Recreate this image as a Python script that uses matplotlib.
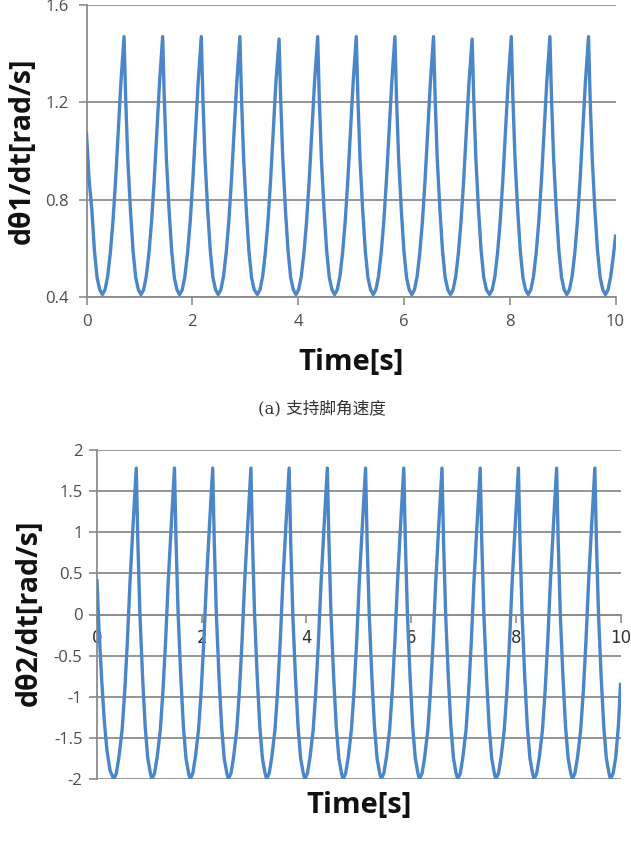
import matplotlib
matplotlib.use("Agg")
import matplotlib.pyplot as plt

# ---------------- data ----------------
# (a) support-leg angular velocity dθ1/dt [rad/s]
t1 = [0.00, 0.05, 0.10, 0.15, 0.20, 0.25,
      0.30, 0.35, 0.40, 0.45, 0.50, 0.55, 0.60, 0.65, 0.71, 0.74, 0.78, 0.83, 0.88, 0.93, 0.98,
      1.03, 1.08, 1.13, 1.18, 1.23, 1.28, 1.33, 1.38, 1.44, 1.47, 1.51, 1.56, 1.61, 1.66, 1.71,
      1.76, 1.81, 1.86, 1.91, 1.96, 2.01, 2.06, 2.11, 2.17, 2.20, 2.24, 2.29, 2.34, 2.39, 2.44,
      2.49, 2.54, 2.59, 2.64, 2.69, 2.74, 2.79, 2.84, 2.90, 2.93, 2.97, 3.02, 3.07, 3.12, 3.17,
      3.23, 3.28, 3.33, 3.38, 3.43, 3.48, 3.53, 3.58, 3.64, 3.67, 3.71, 3.76, 3.81, 3.86, 3.91,
      3.96, 4.01, 4.06, 4.11, 4.16, 4.21, 4.26, 4.31, 4.37, 4.40, 4.44, 4.49, 4.54, 4.59, 4.64,
      4.69, 4.74, 4.79, 4.84, 4.89, 4.94, 4.99, 5.04, 5.10, 5.13, 5.17, 5.22, 5.27, 5.32, 5.37,
      5.42, 5.47, 5.52, 5.57, 5.62, 5.67, 5.72, 5.77, 5.83, 5.86, 5.90, 5.95, 6.00, 6.05, 6.10,
      6.15, 6.20, 6.25, 6.30, 6.35, 6.40, 6.45, 6.50, 6.56, 6.59, 6.63, 6.68, 6.73, 6.78, 6.83,
      6.88, 6.93, 6.98, 7.03, 7.08, 7.13, 7.18, 7.23, 7.29, 7.32, 7.36, 7.41, 7.46, 7.51, 7.56,
      7.62, 7.67, 7.72, 7.77, 7.82, 7.87, 7.92, 7.97, 8.03, 8.06, 8.10, 8.15, 8.20, 8.25, 8.30,
      8.35, 8.40, 8.45, 8.50, 8.55, 8.60, 8.65, 8.70, 8.76, 8.79, 8.83, 8.88, 8.93, 8.98, 9.03,
      9.08, 9.13, 9.18, 9.23, 9.28, 9.33, 9.38, 9.43, 9.49, 9.52, 9.56, 9.61, 9.66, 9.71, 9.76,
      9.81, 9.86, 9.91, 9.96, 10.00]
w1 = [1.07, 0.88, 0.76, 0.59, 0.48, 0.43,
      0.41, 0.43, 0.485, 0.58, 0.71, 0.88, 1.08, 1.28, 1.47, 1.22, 0.97, 0.76, 0.59, 0.48, 0.43,
      0.41, 0.43, 0.485, 0.58, 0.71, 0.88, 1.08, 1.28, 1.47, 1.22, 0.97, 0.76, 0.59, 0.48, 0.43,
      0.41, 0.43, 0.485, 0.58, 0.71, 0.88, 1.08, 1.28, 1.47, 1.22, 0.97, 0.76, 0.59, 0.48, 0.43,
      0.41, 0.43, 0.485, 0.58, 0.71, 0.88, 1.08, 1.28, 1.47, 1.22, 0.97, 0.76, 0.59, 0.48, 0.43,
      0.41, 0.43, 0.485, 0.58, 0.71, 0.88, 1.08, 1.28, 1.46, 1.22, 0.97, 0.76, 0.59, 0.48, 0.43,
      0.41, 0.43, 0.485, 0.58, 0.71, 0.88, 1.08, 1.28, 1.47, 1.22, 0.97, 0.76, 0.59, 0.48, 0.43,
      0.41, 0.43, 0.485, 0.58, 0.71, 0.88, 1.08, 1.28, 1.47, 1.22, 0.97, 0.76, 0.59, 0.48, 0.43,
      0.41, 0.43, 0.485, 0.58, 0.71, 0.88, 1.08, 1.28, 1.47, 1.22, 0.97, 0.76, 0.59, 0.48, 0.43,
      0.41, 0.43, 0.485, 0.58, 0.71, 0.88, 1.08, 1.28, 1.47, 1.22, 0.97, 0.76, 0.59, 0.48, 0.43,
      0.41, 0.43, 0.485, 0.58, 0.71, 0.88, 1.08, 1.28, 1.46, 1.22, 0.97, 0.76, 0.59, 0.48, 0.43,
      0.41, 0.43, 0.485, 0.58, 0.71, 0.88, 1.08, 1.28, 1.47, 1.22, 0.97, 0.76, 0.59, 0.48, 0.43,
      0.41, 0.43, 0.485, 0.58, 0.71, 0.88, 1.08, 1.28, 1.47, 1.22, 0.97, 0.76, 0.59, 0.48, 0.43,
      0.41, 0.43, 0.485, 0.58, 0.71, 0.88, 1.08, 1.28, 1.47, 1.22, 0.97, 0.76, 0.59, 0.48, 0.43,
      0.41, 0.43, 0.485, 0.57, 0.65]

# (b) swing-leg angular velocity dθ2/dt [rad/s]
t2 = [0.00, 0.04, 0.09, 0.14, 0.19, 0.25,
      0.32, 0.37, 0.42, 0.48, 0.53, 0.58, 0.63, 0.69, 0.75, 0.78, 0.82, 0.87, 0.92, 0.97, 1.02,
      1.05, 1.10, 1.15, 1.21, 1.26, 1.31, 1.36, 1.42, 1.48, 1.51, 1.55, 1.60, 1.65, 1.70, 1.75,
      1.78, 1.83, 1.88, 1.94, 1.99, 2.04, 2.09, 2.15, 2.21, 2.24, 2.28, 2.33, 2.38, 2.43, 2.48,
      2.51, 2.56, 2.61, 2.67, 2.72, 2.77, 2.82, 2.88, 2.94, 2.97, 3.01, 3.06, 3.11, 3.16, 3.21,
      3.24, 3.29, 3.34, 3.40, 3.45, 3.50, 3.55, 3.61, 3.67, 3.70, 3.74, 3.79, 3.84, 3.89, 3.94,
      3.97, 4.02, 4.07, 4.13, 4.18, 4.23, 4.28, 4.34, 4.40, 4.43, 4.47, 4.52, 4.57, 4.62, 4.67,
      4.70, 4.75, 4.80, 4.86, 4.91, 4.96, 5.01, 5.07, 5.13, 5.16, 5.20, 5.25, 5.30, 5.35, 5.40,
      5.43, 5.48, 5.53, 5.59, 5.64, 5.69, 5.74, 5.80, 5.86, 5.89, 5.93, 5.98, 6.03, 6.08, 6.13,
      6.16, 6.21, 6.26, 6.32, 6.37, 6.42, 6.47, 6.53, 6.59, 6.62, 6.66, 6.71, 6.76, 6.81, 6.86,
      6.89, 6.94, 6.99, 7.05, 7.10, 7.15, 7.20, 7.26, 7.32, 7.35, 7.39, 7.44, 7.49, 7.54, 7.59,
      7.62, 7.67, 7.72, 7.78, 7.83, 7.88, 7.93, 7.99, 8.05, 8.08, 8.12, 8.17, 8.22, 8.27, 8.32,
      8.35, 8.40, 8.45, 8.51, 8.56, 8.61, 8.66, 8.72, 8.78, 8.81, 8.85, 8.90, 8.95, 9.00, 9.05,
      9.08, 9.13, 9.18, 9.24, 9.29, 9.34, 9.39, 9.45, 9.51, 9.54, 9.58, 9.63, 9.68, 9.73, 9.78,
      9.81, 9.86, 9.91, 9.96, 10.00]
w2 = [0.41, -0.20, -0.80, -1.30, -1.65, -1.90,
      -2.00, -1.93, -1.73, -1.40, -0.93, -0.33, 0.39, 1.10, 1.78, 0.89, 0.00, -0.75, -1.36, -1.75, -1.93,
      -2.00, -1.93, -1.73, -1.40, -0.93, -0.33, 0.39, 1.10, 1.78, 0.89, 0.00, -0.75, -1.36, -1.75, -1.93,
      -2.00, -1.93, -1.73, -1.40, -0.93, -0.33, 0.39, 1.10, 1.78, 0.89, 0.00, -0.75, -1.36, -1.75, -1.93,
      -2.00, -1.93, -1.73, -1.40, -0.93, -0.33, 0.39, 1.10, 1.78, 0.89, 0.00, -0.75, -1.36, -1.75, -1.93,
      -2.00, -1.93, -1.73, -1.40, -0.93, -0.33, 0.39, 1.10, 1.78, 0.89, 0.00, -0.75, -1.36, -1.75, -1.93,
      -2.00, -1.93, -1.73, -1.40, -0.93, -0.33, 0.39, 1.10, 1.78, 0.89, 0.00, -0.75, -1.36, -1.75, -1.93,
      -2.00, -1.93, -1.73, -1.40, -0.93, -0.33, 0.39, 1.10, 1.78, 0.89, 0.00, -0.75, -1.36, -1.75, -1.93,
      -2.00, -1.93, -1.73, -1.40, -0.93, -0.33, 0.39, 1.10, 1.78, 0.89, 0.00, -0.75, -1.36, -1.75, -1.93,
      -2.00, -1.93, -1.73, -1.40, -0.93, -0.33, 0.39, 1.10, 1.78, 0.89, 0.00, -0.75, -1.36, -1.75, -1.93,
      -2.00, -1.93, -1.73, -1.40, -0.93, -0.33, 0.39, 1.10, 1.78, 0.89, 0.00, -0.75, -1.36, -1.75, -1.93,
      -2.00, -1.93, -1.73, -1.40, -0.93, -0.33, 0.39, 1.10, 1.78, 0.89, 0.00, -0.75, -1.36, -1.75, -1.93,
      -2.00, -1.93, -1.73, -1.40, -0.93, -0.33, 0.39, 1.10, 1.78, 0.89, 0.00, -0.75, -1.36, -1.75, -1.93,
      -2.00, -1.93, -1.73, -1.40, -0.93, -0.33, 0.39, 1.10, 1.78, 0.89, 0.00, -0.75, -1.36, -1.75, -1.93,
      -2.00, -1.93, -1.73, -1.35, -0.85]

x_ticks = [0, 2, 4, 6, 8, 10]
y1_ticks = [0.4, 0.8, 1.2, 1.6]
y1_labels = ["0.4", "0.8", "1.2", "1.6"]
y2_ticks = [-2, -1.5, -1, -0.5, 0, 0.5, 1, 1.5, 2]
y2_labels = ["-2", "-1.5", "-1", "-0.5", "0", "0.5", "1", "1.5", "2"]

ylabel1 = "dθ1/dt[rad/s]"
ylabel2 = "dθ2/dt[rad/s]"
xlabel = "Time[s]"
caption_a = "(a) 支持脚角速度"

# ---------------- styling ----------------
LINE = "#4A86C8"
GRID = "#8C8C8C"
TICKC = "#4D4D4D"
LABEL_FONT = ["Open Sans", "DejaVu Sans"]
TICK_FONT = ["Open Sans", "DejaVu Sans"]

fig = plt.figure(figsize=(6.31, 8.58), dpi=100)
W, H = 631.0, 858.0


def px_axes(left, top, right, bottom):
    return fig.add_axes([left / W, 1 - bottom / H, (right - left) / W, (bottom - top) / H])


def style_common(ax):
    for s in ["top", "right"]:
        ax.spines[s].set_visible(False)
    for s in ["left", "bottom"]:
        ax.spines[s].set_color(GRID)
        ax.spines[s].set_linewidth(1.3)
    ax.yaxis.grid(True, color=GRID, linewidth=1.3)
    ax.xaxis.grid(False)
    ax.set_axisbelow(True)
    ax.tick_params(axis="both", colors=GRID, labelcolor=TICKC, length=5.5, width=1.2,
                   direction="out", labelsize=12)
    for lab in ax.get_xticklabels() + ax.get_yticklabels():
        lab.set_family(TICK_FONT)


# ---- top chart ----
ax1 = px_axes(86.5, 5, 615.5, 297)
ax1.plot(t1, w1, color=LINE, linewidth=2.4, zorder=3, solid_joinstyle="round")
ax1.set_xlim(0, 10)
ax1.set_ylim(0.4, 1.6)
ax1.set_xticks(x_ticks)
ax1.set_xticklabels([str(v) for v in x_ticks])
ax1.set_yticks(y1_ticks)
ax1.set_yticklabels(y1_labels)
style_common(ax1)
ax1.tick_params(axis="x", pad=7)
ax1.tick_params(axis="y", pad=7)

# ---- bottom chart ----
ax2 = px_axes(97, 450, 620.5, 779)
ax2.plot(t2, w2, color=LINE, linewidth=2.4, zorder=3, solid_joinstyle="round")
ax2.set_xlim(0, 10)
ax2.set_ylim(-2, 2)
ax2.set_xticks(x_ticks)
ax2.set_xticklabels([str(v) for v in x_ticks])
ax2.set_yticks(y2_ticks)
ax2.set_yticklabels(y2_labels)
style_common(ax2)
ax2.spines["bottom"].set_position(("data", 0))
ax2.tick_params(axis="x", pad=5, labelcolor="#333333")
ax2.tick_params(axis="y", pad=5)
for lab in ax2.get_xticklabels():
    lab.set_zorder(5)

# ---- axis titles ----
fig.text(22 / W, 1 - 151 / H, ylabel1, rotation=90, ha="center", va="center",
         fontsize=20.5, fontweight="bold", family=LABEL_FONT, color="#111111")
fig.text(351 / W, 1 - 362 / H, xlabel, ha="center", va="center",
         fontsize=21, fontweight="bold", family=LABEL_FONT, color="#111111")
fig.text(29 / W, 1 - 613 / H, ylabel2, rotation=90, ha="center", va="center",
         fontsize=20.5, fontweight="bold", family=LABEL_FONT, color="#111111")
fig.text(359 / W, 1 - 806 / H, xlabel, ha="center", va="center",
         fontsize=21, fontweight="bold", family=LABEL_FONT, color="#111111")

# ---- caption ----
fig.text(322 / W, 1 - 409 / H, caption_a, ha="center", va="center",
         fontsize=12, family=["DejaVu Serif", "Noto Sans CJK SC"], color="#333333")

fig.savefig("out.png", dpi=100, facecolor="white")
